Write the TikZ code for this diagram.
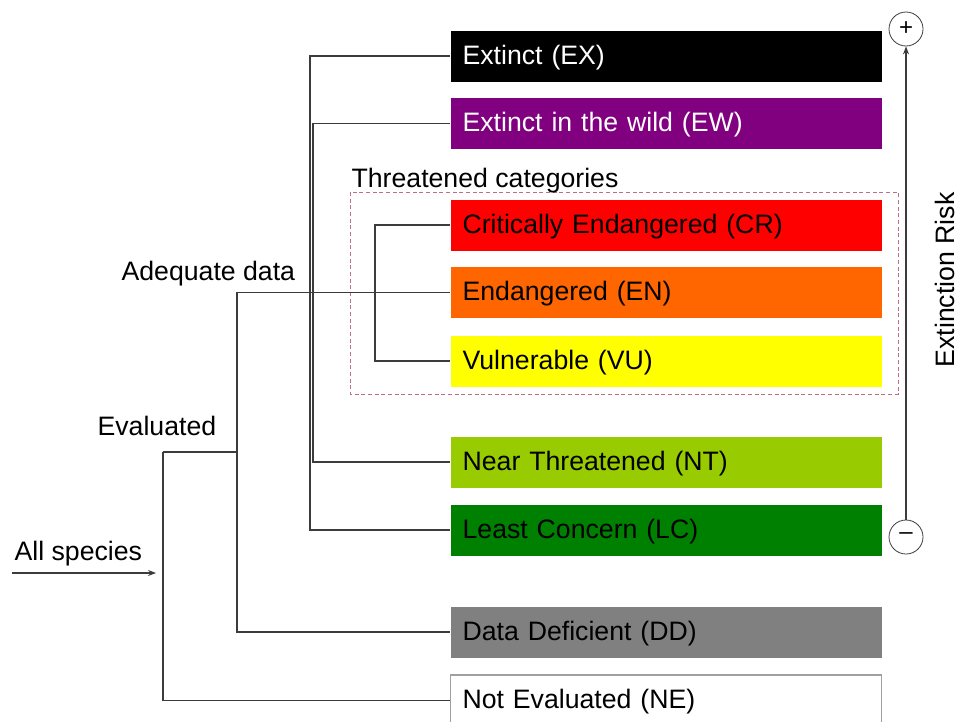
\documentclass[tikz,border=0pt]{standalone}
\usepackage{fontspec}
\setmainfont{Liberation Sans}
\usetikzlibrary{arrows.meta}
\definecolor{exblack}{RGB}{0,0,0}
\definecolor{ewpurple}{RGB}{128,0,128}
\definecolor{crred}{RGB}{255,0,0}
\definecolor{enorange}{RGB}{255,102,0}
\definecolor{vuyellow}{RGB}{255,255,0}
\definecolor{ntgreen}{RGB}{153,204,0}
\definecolor{lcgreen}{RGB}{0,128,0}
\definecolor{ddgray}{RGB}{128,128,128}
\definecolor{negray}{RGB}{160,160,160}
\definecolor{linegray}{RGB}{60,60,60}
\definecolor{dashmauve}{RGB}{190,110,140}
\tikzset{
  cat/.style={anchor=west,text width=305.25pt,inner xsep=9pt,inner ysep=0pt,
    text height=15pt,text depth=3pt,
    minimum height=38.25pt,align=left,font=\fontsize{20}{24}\selectfont},
  lbl/.style={anchor=base west,inner sep=0pt,font=\fontsize{20}{24}\selectfont},
  sign/.style={circle,draw=linegray,line width=0.6pt,minimum size=25.5pt,inner sep=0pt,
    font=\fontsize{18}{22}\selectfont}
}
\begin{document}
\begin{tikzpicture}[x=0.75pt,y=-0.75pt,>={Stealth[length=6pt,width=4.5pt]},line width=0.9pt]
  \useasboundingbox (0,0) rectangle (959,721);

  % category boxes
  \node[cat,fill=exblack,text=white] (ex) at (450,56) {Extinct (EX)};
  \node[cat,fill=ewpurple,text=white] (ew) at (450,123.5) {Extinct in the wild (EW)};
  \node[cat,fill=crred] (cr) at (450,225) {Critically Endangered (CR)};
  \node[cat,fill=enorange] (en) at (450,292.5) {Endangered (EN)};
  \node[cat,fill=vuyellow] (vu) at (450,361) {Vulnerable (VU)};
  \node[cat,fill=ntgreen] (nt) at (450,462) {Near Threatened (NT)};
  \node[cat,fill=lcgreen] (lc) at (450,530) {Least Concern (LC)};
  \node[cat,fill=ddgray] (dd) at (450,632) {Data Deficient (DD)};
  \node[cat,fill=white,draw=negray,line width=0.8pt] (ne) at (450,700.5) {Not Evaluated (NE)};

  % threatened group
  \draw[dashmauve,dashed,line width=0.6pt,dash pattern=on 3pt off 2pt] (350,192) rectangle (898,394);
  \node[lbl] (thr) at (351,187) {Threatened categories};

  % left labels
  \node[lbl] (alls) at (14,560) {All species};
  \node[lbl] (eval) at (97,435) {Evaluated};
  \node[lbl] (adeq) at (121,280) {Adequate data};

  \coordinate (in) at (12,573);
  \coordinate (inend) at (156,573);
  \coordinate (evl) at (163,452);
  \coordinate (adq) at (237,452);

  % brackets
  \draw[linegray,->] (in) -- (inend);
  \draw[linegray] (evl) -- (adq);
  \draw[linegray] (evl) |- (ne.west);
  \draw[linegray] (en.west) -| (adq) |- (dd.west);
  \draw[linegray] (ex.west) -- ++(-140,0) |- (lc.west);
  \draw[linegray] (ew.west) -- ++(-137,0) |- (nt.west);
  \draw[linegray] (cr.west) -- ++(-75,0) |- (vu.west);

  % risk axis
  \node[sign] (plus) at (906,29) {+};
  \node[sign] (minus) at (906,537) {\raisebox{1pt}{--}};
  \draw[linegray,->] (minus) -- (plus);
  \node[lbl,rotate=90] (risk) at (954,368) {Extinction Risk};
\end{tikzpicture}
\end{document}
